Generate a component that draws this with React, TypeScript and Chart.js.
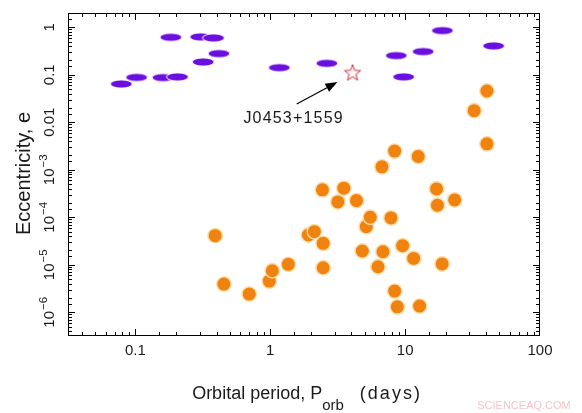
import React, { useEffect, useRef } from 'react';
import { Chart, registerables } from 'chart.js';

Chart.register(...registerables);

const FONT = '"Liberation Sans", Arial, Helvetica, sans-serif';

// Axis ranges (log scales)
const xMin = Math.pow(10, -1.5);
const xMax = 100;
const yMin = Math.pow(10, -6.5);
const yMax = Math.pow(10, 0.3);

// Tick labels
const xTickValues = [0.1, 1, 10, 100];
const xTickLabels = ['0.1', '1', '10', '100'];
const yTickValues = [1, 0.1, 0.01, 1e-3, 1e-4, 1e-5, 1e-6];
const yTickBase = ['1', '0.1', '0.01', '10', '10', '10', '10'];
const yTickExp = ['', '', '', '\u22123', '\u22124', '\u22125', '\u22126'];

// Titles
const xTitleMain = 'Orbital period, P';
const xTitleSub = 'orb';
const xTitleEnd = '(days)';
const yTitle = 'Eccentricity, e';

// Eccentric / wide systems (purple ellipses)
const purplePeriod = [0.0785, 0.102, 0.160, 0.205, 0.183, 0.305, 0.379, 0.318, 0.416, 1.167, 2.63, 8.6, 9.75, 13.6, 18.9, 45.3];
const purpleEcc = [0.064, 0.088, 0.087, 0.090, 0.615, 0.627, 0.597, 0.186, 0.279, 0.141, 0.174, 0.253, 0.090, 0.307, 0.851, 0.405];

// Circular systems (orange circles)
const orangePeriod = [
  0.390, 0.453, 0.698, 0.983, 1.035, 1.36, 1.917, 2.124, 2.466, 2.466,
  2.437, 3.51, 3.17, 4.36, 5.15, 5.51, 4.81, 6.29, 6.73, 8.36,
  12.5, 7.85, 6.85, 9.58, 11.56, 18.8, 8.36, 8.75, 12.8, 17.35,
  17.1, 23.3, 32.5, 40.4, 40.4,
];
const orangeEcc = [
  4.09e-5, 3.92e-6, 2.41e-6, 4.53e-6, 7.47e-6, 1.02e-5, 4.23e-5, 4.97e-5, 2.83e-5, 8.64e-6,
  3.77e-4, 4.09e-4, 2.10e-4, 2.24e-4, 6.34e-5, 1.0e-4, 1.95e-5, 9.08e-6, 1.15e-3, 2.47e-3,
  1.90e-3, 9.67e-5, 1.88e-5, 2.52e-5, 1.36e-5, 1.04e-5, 2.79e-6, 1.30e-6, 1.35e-6, 1.79e-4,
  3.95e-4, 2.32e-4, 0.0175, 0.0455, 3.52e-3,
];

// Highlighted pulsar
const starName = 'J0453+1559';
const starPeriod = [4.072];
const starEcc = [0.112];
const labelAt = [1.49, 0.0096];
const arrowTail = [1.571, 0.0242];
const arrowHead = [3.148, 0.0705];

const watermark = 'SCIENCEAQ.COM';

function makeEllipse(): HTMLCanvasElement {
  const c = document.createElement('canvas');
  c.width = 26;
  c.height = 12;
  const g = c.getContext('2d')!;
  g.beginPath();
  g.ellipse(13, 6, 11, 4.1, 0, 0, Math.PI * 2);
  g.fillStyle = '#6a0fe0';
  g.fill();
  g.lineWidth = 1;
  g.strokeStyle = '#ffffff';
  g.stroke();
  return c;
}

function makeStar(): HTMLCanvasElement {
  const c = document.createElement('canvas');
  c.width = 22;
  c.height = 22;
  const g = c.getContext('2d')!;
  const R = 8.6;
  const r = 3.6;
  g.beginPath();
  for (let i = 0; i < 10; i++) {
    const rad = i % 2 === 0 ? R : r;
    const a = -Math.PI / 2 + (i * Math.PI) / 5;
    const px = 11 + rad * Math.cos(a);
    const py = 11.8 + rad * Math.sin(a);
    if (i === 0) g.moveTo(px, py);
    else g.lineTo(px, py);
  }
  g.closePath();
  g.fillStyle = '#fff6f6';
  g.fill();
  g.lineWidth = 1;
  g.strokeStyle = '#c8303a';
  g.stroke();
  return c;
}

const decoPlugin = {
  id: 'deco',
  afterDraw(chart: any) {
    const { ctx, chartArea } = chart;
    const { left, right, top, bottom } = chartArea;
    const xs = chart.scales.x;
    const ys = chart.scales.y;
    ctx.save();

    // frame
    ctx.strokeStyle = '#000';
    ctx.lineWidth = 1;
    ctx.strokeRect(left + 0.5, top + 0.5, right - left - 1, bottom - top - 1);

    // inward ticks on all four sides
    const isEnd = (v: number, mn: number, mx: number) =>
      Math.abs(Math.log10(v) - Math.log10(mn)) < 1e-6 || Math.abs(Math.log10(v) - Math.log10(mx)) < 1e-6;
    ctx.beginPath();
    for (const t of xs.ticks) {
      if (isEnd(t.value, xMin, xMax)) continue;
      const px = Math.round(xs.getPixelForValue(t.value)) + 0.5;
      const len = t.major ? 7 : 4;
      ctx.moveTo(px, bottom);
      ctx.lineTo(px, bottom - len);
      ctx.moveTo(px, top);
      ctx.lineTo(px, top + len);
    }
    for (const t of ys.ticks) {
      if (isEnd(t.value, yMin, yMax)) continue;
      const py = Math.round(ys.getPixelForValue(t.value)) + 0.5;
      const len = t.major ? 7 : 4;
      ctx.moveTo(left, py);
      ctx.lineTo(left + len, py);
      ctx.moveTo(right, py);
      ctx.lineTo(right - len, py);
    }
    ctx.stroke();

    // y tick labels (rotated, with superscripts)
    ctx.fillStyle = '#1a1a1a';
    const baseFont = `15px ${FONT}`;
    const supFont = `11.5px ${FONT}`;
    yTickValues.forEach((v, i) => {
      const py = ys.getPixelForValue(v);
      ctx.save();
      ctx.translate(53.5, py);
      ctx.rotate(-Math.PI / 2);
      ctx.textBaseline = 'alphabetic';
      ctx.textAlign = 'left';
      ctx.font = baseFont;
      const wb = ctx.measureText(yTickBase[i]).width;
      ctx.font = supFont;
      const we = yTickExp[i] ? ctx.measureText(yTickExp[i]).width + 1 : 0;
      const start = -(wb + we) / 2;
      ctx.font = baseFont;
      ctx.fillText(yTickBase[i], start, 0);
      if (yTickExp[i]) {
        ctx.font = supFont;
        ctx.fillText(yTickExp[i], start + wb + 1, -6.5);
      }
      ctx.restore();
    });

    // y title
    ctx.save();
    ctx.translate(30, (top + bottom) / 2 - 1);
    ctx.rotate(-Math.PI / 2);
    ctx.font = `20px ${FONT}`;
    ctx.textAlign = 'center';
    ctx.textBaseline = 'alphabetic';
    ctx.fillText(yTitle, 0, 0);
    ctx.restore();

    // x title with subscript
    ctx.textAlign = 'left';
    ctx.textBaseline = 'alphabetic';
    ctx.font = `18px ${FONT}`;
    const w1 = ctx.measureText(xTitleMain).width;
    ctx.font = `15px ${FONT}`;
    const w2 = ctx.measureText(xTitleSub).width;
    ctx.font = `18px ${FONT}`;
    (ctx as any).letterSpacing = '2px';
    const w3 = ctx.measureText(xTitleEnd).width;
    (ctx as any).letterSpacing = '0px';
    const gap = 16;
    const total = w1 + w2 + gap + w3;
    let tx = (left + right) / 2 + 3 - total / 2;
    const base = 398.5;
    ctx.fillText(xTitleMain, tx, base);
    tx += w1;
    ctx.font = `15px ${FONT}`;
    ctx.fillText(xTitleSub, tx, base + 11);
    tx += w2 + gap;
    ctx.font = `18px ${FONT}`;
    (ctx as any).letterSpacing = '2px';
    ctx.fillText(xTitleEnd, tx, base);
    (ctx as any).letterSpacing = '0px';

    // annotation: label + arrow
    const lx = xs.getPixelForValue(labelAt[0]);
    const ly = ys.getPixelForValue(labelAt[1]);
    ctx.font = `16px ${FONT}`;
    (ctx as any).letterSpacing = '1.2px';
    ctx.textAlign = 'center';
    ctx.fillStyle = '#1a1a1a';
    ctx.fillText(starName, lx, ly);
    (ctx as any).letterSpacing = '0px';

    const ax = xs.getPixelForValue(arrowTail[0]);
    const ay = ys.getPixelForValue(arrowTail[1]);
    const bx = xs.getPixelForValue(arrowHead[0]);
    const by = ys.getPixelForValue(arrowHead[1]);
    const ang = Math.atan2(by - ay, bx - ax);
    const hl = 12;
    const hw = 4.5;
    const baseX = bx - hl * Math.cos(ang);
    const baseY = by - hl * Math.sin(ang);
    ctx.strokeStyle = '#000';
    ctx.lineWidth = 1.2;
    ctx.beginPath();
    ctx.moveTo(ax, ay);
    ctx.lineTo(baseX, baseY);
    ctx.stroke();
    ctx.fillStyle = '#000';
    ctx.beginPath();
    ctx.moveTo(bx, by);
    ctx.lineTo(baseX + hw * Math.sin(ang), baseY - hw * Math.cos(ang));
    ctx.lineTo(baseX - hw * Math.sin(ang), baseY + hw * Math.cos(ang));
    ctx.closePath();
    ctx.fill();

    // watermark
    ctx.font = `11px ${FONT}`;
    ctx.fillStyle = '#f6c3cb';
    ctx.textAlign = 'center';
    ctx.fillText(watermark, 524, 409);

    ctx.restore();
  },
};

export default function App() {
  const ref = useRef<HTMLCanvasElement>(null);
  useEffect(() => {
    const canvas = ref.current;
    if (!canvas) return;
    const ellipse = makeEllipse();
    const star = makeStar();
    const chart = new Chart(canvas, {
      type: 'scatter',
      data: {
        datasets: [
          {
            label: starName,
            data: starPeriod.map((p, i) => ({ x: p, y: starEcc[i] })),
            pointStyle: star as any,
            pointRadius: 6,
          },
          {
            label: 'circular',
            data: orangePeriod.map((p, i) => ({ x: p, y: orangeEcc[i] })),
            pointStyle: 'circle',
            pointRadius: 7.2,
            backgroundColor: '#f0820f',
            borderColor: '#fcdca4',
            borderWidth: 1.4,
          },
          {
            label: 'eccentric',
            data: purplePeriod.map((p, i) => ({ x: p, y: purpleEcc[i] })),
            pointStyle: ellipse as any,
            pointRadius: 6,
          },
        ],
      },
      options: {
        animation: false,
        responsive: false,
        events: [],
        layout: { padding: { left: 0, top: 13, right: 42, bottom: 0 } },
        plugins: { legend: { display: false }, tooltip: { enabled: false } },
        scales: {
          x: {
            type: 'logarithmic',
            position: 'bottom',
            min: xMin,
            max: xMax,
            grid: { display: false, drawTicks: false },
            border: { display: false },
            ticks: {
              autoSkip: false,
              maxRotation: 0,
              minRotation: 0,
              padding: 6,
              color: '#1a1a1a',
              font: { family: FONT, size: 15 },
              callback: (value: any) => {
                const v = Number(value);
                const i = xTickValues.findIndex((t) => Math.abs(Math.log10(t) - Math.log10(v)) < 1e-6);
                return i >= 0 ? xTickLabels[i] : '';
              },
            },
            afterFit: (s: any) => {
              s.height = 77;
            },
          },
          y: {
            type: 'logarithmic',
            position: 'left',
            min: yMin,
            max: yMax,
            grid: { display: false, drawTicks: false },
            border: { display: false },
            ticks: { display: false },
            afterFit: (s: any) => {
              s.width = 68;
            },
          },
        },
      },
      plugins: [decoPlugin],
    } as any);
    return () => chart.destroy();
  }, []);
  return (
    <div style={{ position: 'fixed', left: 0, top: 0, width: 582, height: 413, background: '#fff' }}>
      <canvas ref={ref} width={582} height={413} style={{ width: 582, height: 413, display: 'block' }} />
    </div>
  );
}
